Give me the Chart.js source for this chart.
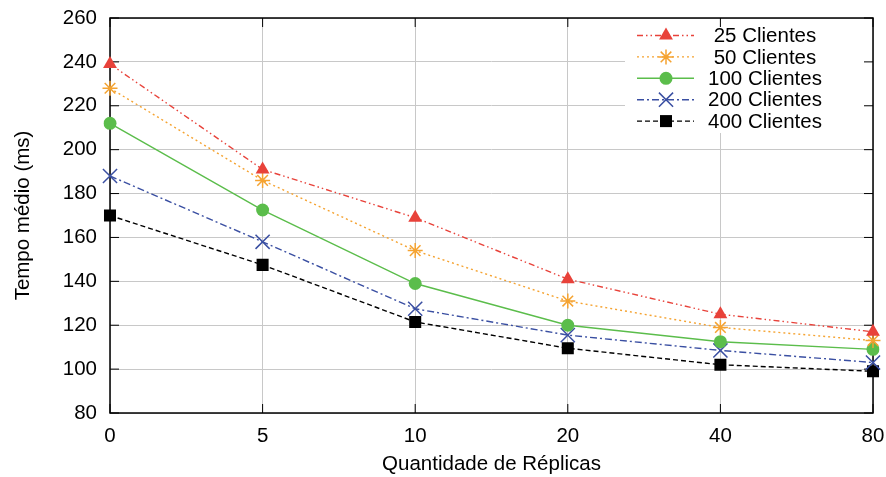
<!DOCTYPE html>
<html>
<head>
<meta charset="utf-8">
<script src="https://cdn.jsdelivr.net/npm/chart.js@4"></script>
<style>
  html, body { margin: 0; padding: 0; background: #fff; }
  #wrap { width: 886px; height: 477px; }
</style>
</head>
<body>
<div id="wrap"><canvas id="grafico" width="886" height="477"></canvas></div>
<script>
// dados
const replicas = ['0', '5', '10', '20', '40', '80'];
const yTicks = [80, 100, 120, 140, 160, 180, 200, 220, 240, 260];
const clientes25 = [239, 191, 169, 141, 125, 117];
const clientes50 = [228, 186, 154, 131, 119, 113];
const clientes100 = [212, 172.5, 139, 120, 112.5, 109];
const clientes200 = [188, 158, 127.5, 115.5, 108.5, 103];
const clientes400 = [170, 147.5, 121.5, 109.5, 102, 99];

const fonte = 'Liberation Sans, Arial, Helvetica, sans-serif';
const tamFonte = 20.5;

function serie(label, data, cor, dash, estilo, raio) {
    const soLinha = estilo === 'crossRot' || estilo === 'star';
    return {
        label: label,
        data: data,
        borderColor: cor,
        backgroundColor: cor,
        borderWidth: 1.4,
        borderDash: dash,
        pointStyle: estilo,
        pointRadius: raio,
        pointHoverRadius: raio,
        pointBorderWidth: soLinha ? 1.5 : 0,
        pointBorderColor: cor,
        pointBackgroundColor: cor,
        tension: 0
    };
}

// moldura, ticks internos e legenda dentro do gráfico
const estiloGnuplot = {
    id: 'estiloGnuplot',
    beforeDatasetsDraw(chart) {
        const ctx = chart.ctx;
        const a = chart.chartArea;
        const ys = chart.scales.y;
        const xs = chart.scales.x;
        ctx.save();
        // fundo branco da legenda cobre a grade
        ctx.fillStyle = '#fff';
        ctx.fillRect(625, a.top + 1, a.right - 625 - 1, 114);
        ctx.strokeStyle = '#000';
        ctx.lineWidth = 1;
        yTicks.forEach(v => {
            const y = ys.getPixelForValue(v);
            ctx.beginPath();
            ctx.moveTo(a.left, y); ctx.lineTo(a.left + 9, y);
            ctx.moveTo(a.right, y); ctx.lineTo(a.right - 9, y);
            ctx.stroke();
        });
        replicas.forEach((r, i) => {
            const x = xs.getPixelForValue(i);
            ctx.beginPath();
            ctx.moveTo(x, a.bottom); ctx.lineTo(x, a.bottom - 9);
            ctx.moveTo(x, a.top); ctx.lineTo(x, a.top + 9);
            ctx.stroke();
        });
        ctx.lineWidth = 1.5;
        ctx.strokeRect(a.left, a.top, a.right - a.left, a.bottom - a.top);
        ctx.restore();
    },
    afterDatasetsDraw(chart) {
        const ctx = chart.ctx;
        ctx.save();
        chart.data.datasets.forEach((ds, i) => {
            const y = 35.5 + i * 21.4;
            ctx.strokeStyle = ds.borderColor;
            ctx.fillStyle = ds.backgroundColor;
            ctx.lineWidth = ds.borderWidth;
            ctx.setLineDash(ds.borderDash);
            ctx.beginPath();
            ctx.moveTo(637, y);
            ctx.lineTo(694, y);
            ctx.stroke();
            ctx.setLineDash([]);
            ctx.lineWidth = ds.pointBorderWidth;
            Chart.helpers.drawPoint(ctx, {
                pointStyle: ds.pointStyle,
                radius: ds.pointRadius,
                rotation: 0,
                borderWidth: ds.pointBorderWidth
            }, 666, y);
            ctx.fillStyle = '#000';
            ctx.font = tamFonte + 'px ' + fonte;
            ctx.textBaseline = 'middle';
            ctx.textAlign = 'left';
            ctx.fillText(ds.label, 708, y + 1);
        });
        ctx.restore();
    }
};

const ctx = document.getElementById('grafico').getContext('2d');
new Chart(ctx, {
    type: 'line',
    data: {
        labels: replicas,
        datasets: [
            serie(' 25 Clientes', clientes25, '#e8423a', [6, 3, 1.5, 3, 1.5, 3], 'triangle', 8),
            serie(' 50 Clientes', clientes50, '#f5a331', [2, 3], 'star', 7.5),
            serie('100 Clientes', clientes100, '#5bbd4b', [], 'circle', 6.5),
            serie('200 Clientes', clientes200, '#3a4fa2', [7, 3, 2, 3], 'crossRot', 10),
            serie('400 Clientes', clientes400, '#000000', [5, 3], 'rect', 8.5)
        ]
    },
    plugins: [estiloGnuplot],
    options: {
        responsive: false,
        animation: false,
        layout: { padding: { top: 18, right: 13, left: 0, bottom: 0 } },
        plugins: {
            legend: { display: false },
            tooltip: { enabled: false }
        },
        scales: {
            x: {
                type: 'category',
                offset: false,
                grid: { color: '#c8c8c8', lineWidth: 1, drawTicks: false },
                border: { display: false },
                ticks: { color: '#000', font: { family: fonte, size: tamFonte }, padding: 11, maxRotation: 0 },
                title: { display: true, text: 'Quantidade de Réplicas', color: '#000', font: { family: fonte, size: tamFonte }, padding: { top: 9, bottom: 0 } },
                afterFit(scale) {
                    scale.height = 64;
                    scale.paddingLeft = 0;
                    scale.paddingRight = 0;
                }
            },
            y: {
                min: 80,
                max: 260,
                afterBuildTicks(scale) { scale.ticks = yTicks.map(v => ({ value: v })); },
                grid: { color: '#c8c8c8', lineWidth: 1, drawTicks: false },
                border: { display: false },
                ticks: { color: '#000', font: { family: fonte, size: tamFonte }, padding: 13 },
                title: { display: true, text: 'Tempo médio (ms)', color: '#000', font: { family: fonte, size: tamFonte }, padding: { top: 11, bottom: 0 } },
                afterFit(scale) {
                    scale.width = 110;
                    scale.paddingTop = 0;
                    scale.paddingBottom = 0;
                }
            }
        }
    }
});
</script>
</body>
</html>
